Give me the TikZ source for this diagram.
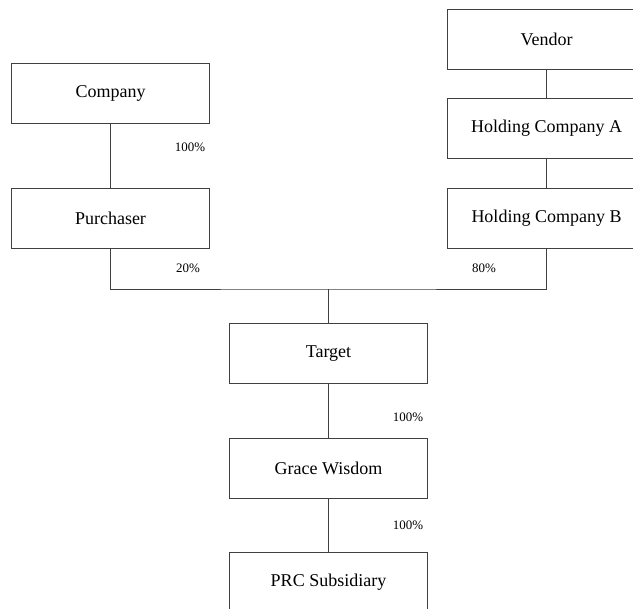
\documentclass[tikz,border=0pt]{standalone}
\usepackage{fontspec}
\setmainfont{Liberation Serif}

\tikzset{
	orgbox/.style={rectangle,draw=black!75,line width=0.6pt,minimum width=4.95cm,minimum height=1.5cm,inner sep=0pt,font=\fontsize{12.8}{15}\selectfont},
	share/.style={font=\fontsize{9.2}{11}\selectfont,inner sep=0pt},
	link/.style={draw=black!75,line width=0.6pt}
}

\newcommand{\orgunit}[3]
{
	\node[orgbox] at (#1) (#2) {#3}
}

\begin{document}
\begin{tikzpicture}[x=0.025cm,y=-0.025cm]
	\clip (0,0) rectangle (633,608);
	\useasboundingbox (0,0) rectangle (633,608);
	
	%%% Purchaser side
	\orgunit{110.5,93}{company}{Company};
	\orgunit{110.5,218}{purchaser}{Purchaser};
	\draw[link] (company) -- (purchaser);
	
	%%% Vendor side
	\orgunit{546.5,39.5}{vendor}{Vendor};
	\orgunit{546.5,128.5}{holdA}{Holding Company A};
	\orgunit{546.5,218}{holdB}{Holding Company B};
	\draw[link] (vendor) -- (holdA);
	\draw[link] (holdA) -- (holdB);
	
	%%% Target group
	\orgunit{328.5,353.5}{target}{Target};
	\orgunit{328.5,468}{grace}{Grace Wisdom};
	\orgunit{328.5,582.5}{prc}{PRC Subsidiary};
	\draw[link] (target) -- (grace);
	\draw[link] (grace) -- (prc);
	
	%%%%%%%%% JOINT OWNERSHIP %%%%%%%%%%%%
	\coordinate (join) at (328.5,289);
	\draw[link] (purchaser.south) |- (join) -| (holdB.south);
	\draw[link] (join) -- (target.north);
	
	%%%%%%%%% SHAREHOLDINGS
	\node[share] (pcCompany) at (190,147) {100\%};
	\node[share] (pcPurchaser) at (188,268) {20\%};
	\node[share] (pcHoldB) at (484,268) {80\%};
	\node[share] (pcTarget) at (408,417) {100\%};
	\node[share] (pcGrace) at (408,525) {100\%};
\end{tikzpicture}
\end{document}
